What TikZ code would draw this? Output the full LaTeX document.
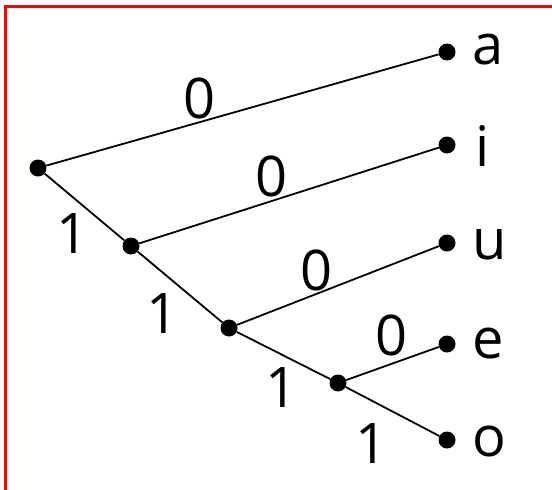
\documentclass[tikz,border=0pt]{standalone}
\usepackage{fontspec}
\setmainfont{Open Sans}
\begin{document}
\begin{tikzpicture}[x=1pt,y=-1pt,
  dot/.style={circle,fill=black,inner sep=0pt,minimum size=17pt},
  edge/.style={line width=1.8pt},
  lbl/.style={font=\fontsize{56}{60}\selectfont,inner sep=0pt},
  leaflbl/.style={font=\fontsize{56}{60}\selectfont,inner sep=0pt,anchor=west}]
\useasboundingbox (0,0) rectangle (552,490);
\draw[red,line width=3pt] (5,490) -- (5,6) -- (552,6);
\node[dot] (r) at (38,168) {};
\node[dot] (n1) at (131,246) {};
\node[dot] (n2) at (229,328) {};
\node[dot] (n3) at (338,383) {};
\node[dot] (a) at (447,52) {};
\node[dot] (i) at (447,145) {};
\node[dot] (u) at (447,243) {};
\node[dot] (e) at (447,344) {};
\node[dot] (o) at (447,440) {};
\draw[edge] (r) -- (a);
\draw[edge] (r) -- (n1);
\draw[edge] (n1) -- (i);
\draw[edge] (n1) -- (n2);
\draw[edge] (n2) -- (u);
\draw[edge] (n2) -- (n3);
\draw[edge] (n3) -- (e);
\draw[edge] (n3) -- (o);
\node[leaflbl] (la) at (472,50) {a};
\node[leaflbl] (li) at (475,146) {i};
\node[leaflbl] (lu) at (472,245) {u};
\node[leaflbl] (le) at (472,344) {e};
\node[leaflbl] (lo) at (472,442) {o};
\node[lbl] (e1) at (200,98) {0};
\node[lbl] (e2) at (272,176) {0};
\node[lbl] (e3) at (317,270) {0};
\node[lbl] (e4) at (392,335) {0};
\node[lbl] (f1) at (73,234) {1};
\node[lbl] (f2) at (163,314) {1};
\node[lbl] (f3) at (282,388) {1};
\node[lbl] (f4) at (372,444) {1};
\end{tikzpicture}
\end{document}
